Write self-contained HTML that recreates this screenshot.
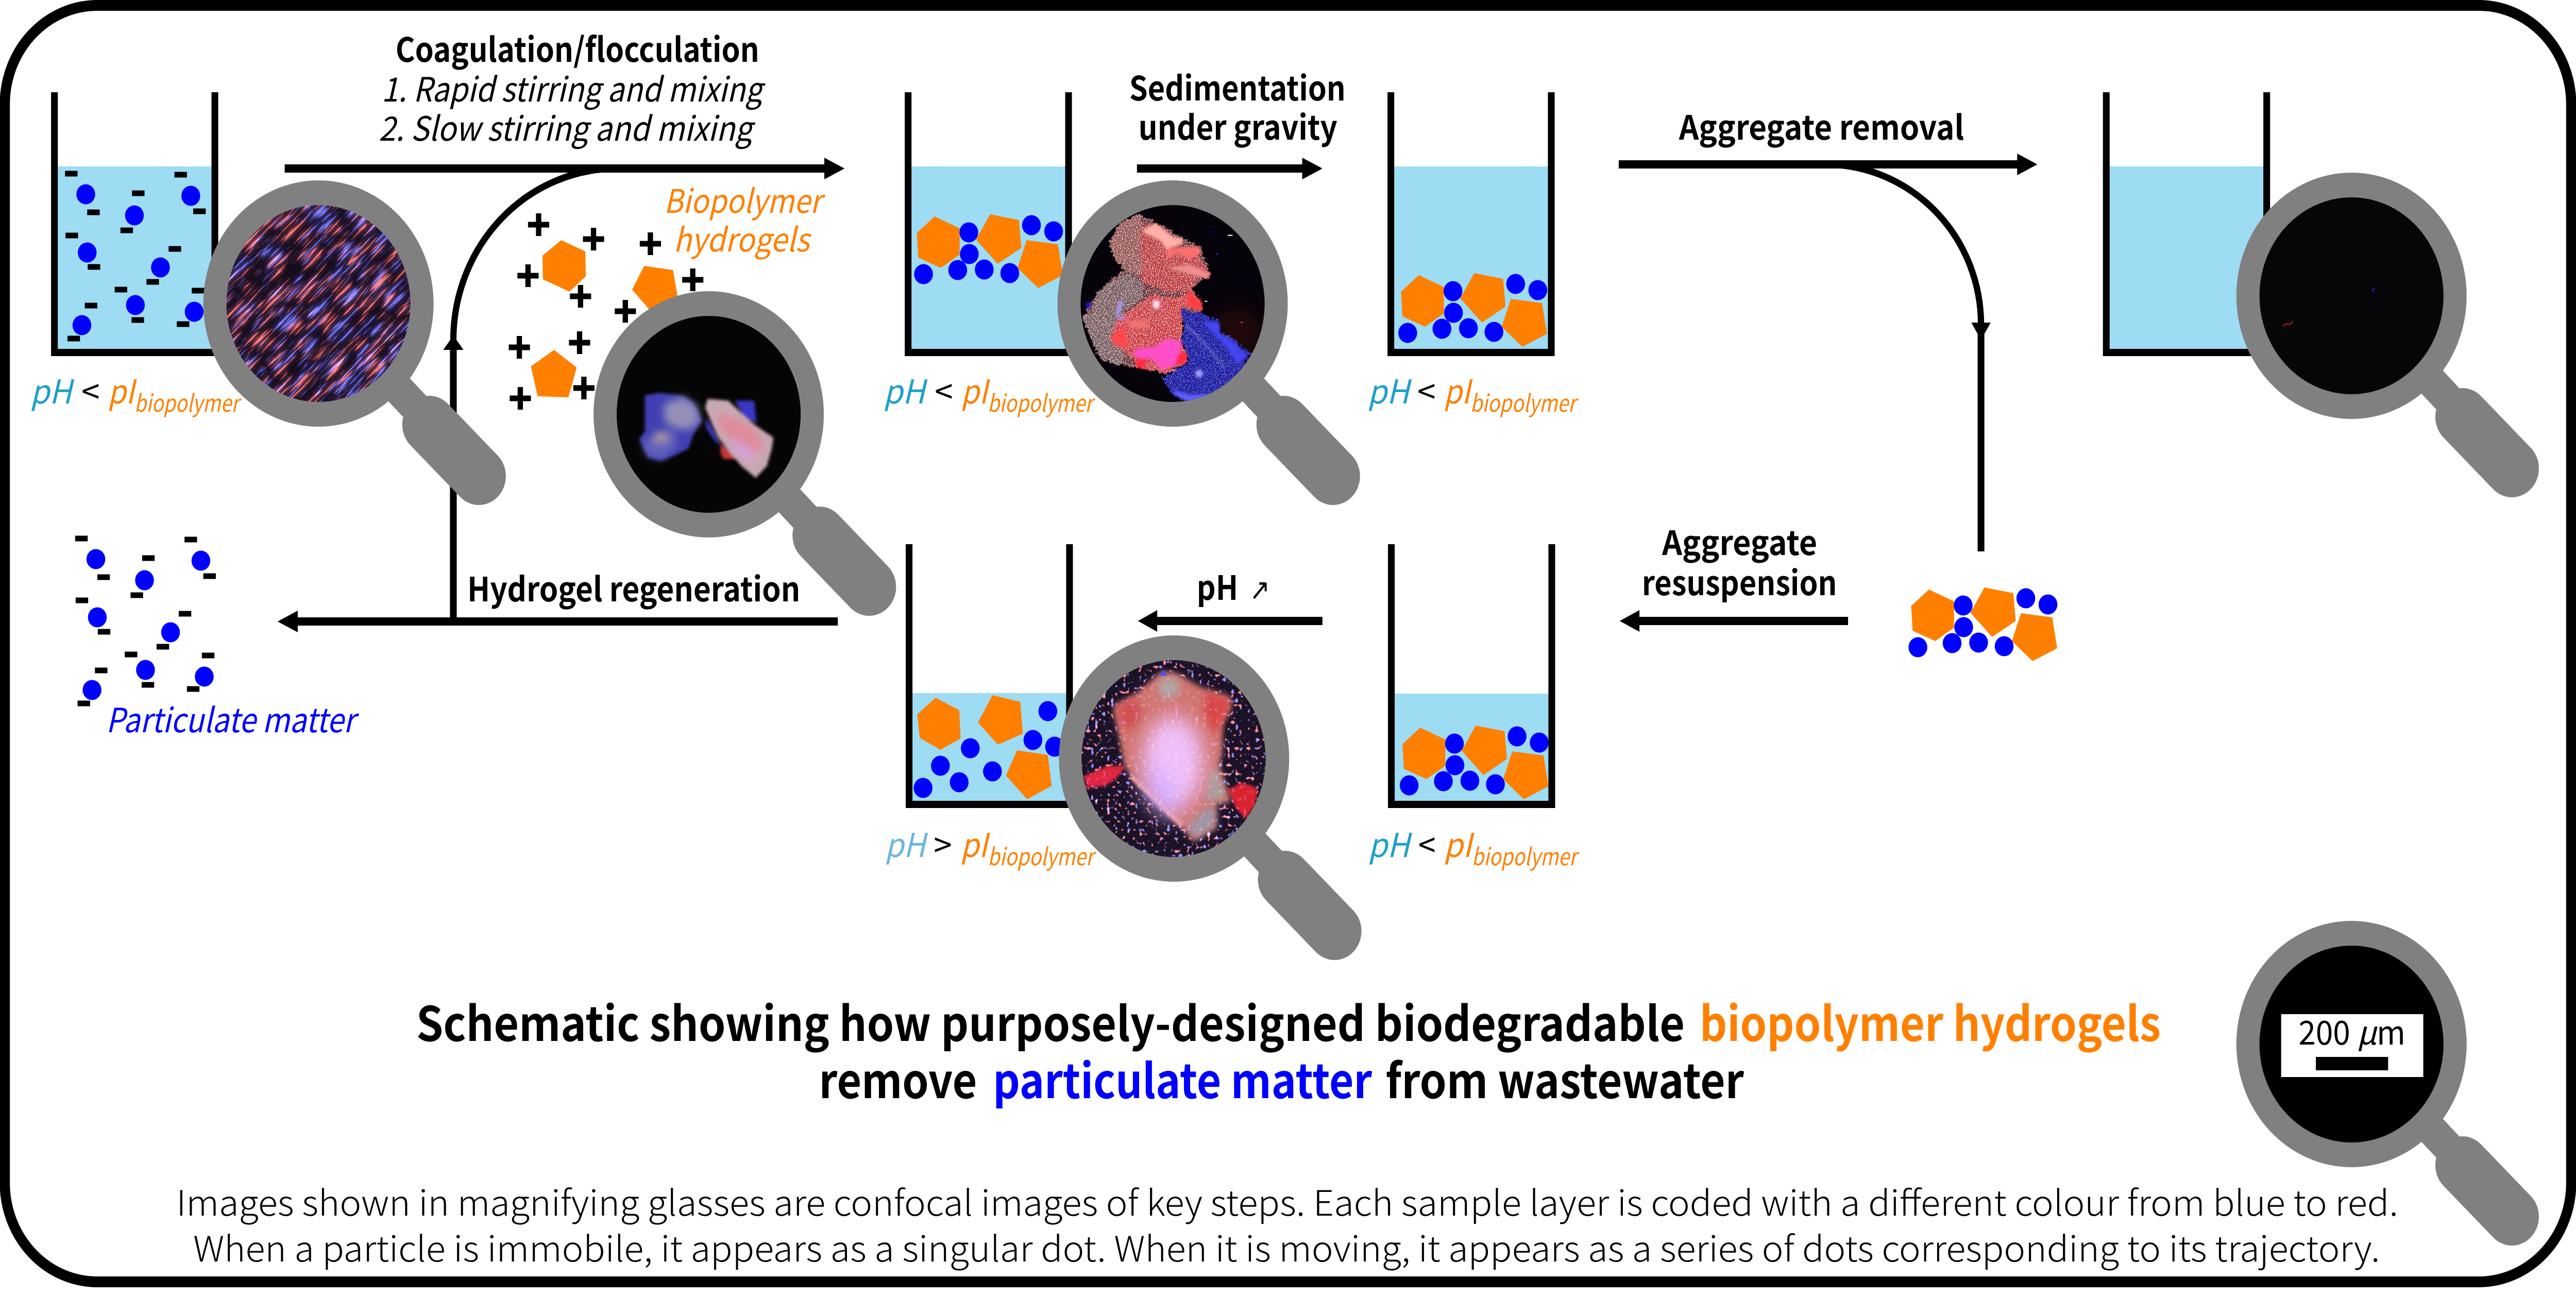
<!DOCTYPE html>
<html><head><meta charset="utf-8"><title>Biopolymer hydrogels schematic</title>
<style>
html,body{margin:0;padding:0;background:#fff;width:100%;height:100%;overflow:hidden}
svg{display:block;width:100vw;height:100vh}
text{font-family:"Noto Sans CJK SC","Liberation Sans",sans-serif;white-space:pre}
.b{font-weight:700;font-size:65px;fill:#000}
.i{font-style:italic;font-size:65px;fill:#000}
.ph{font-style:italic;font-size:64px;fill:#1e9fcb}
.ph2{font-style:italic;font-size:64px;fill:#6bb5dc}
.pi{font-style:italic;font-size:64px;fill:#ff8000}
.sub{font-style:italic;font-size:46px;fill:#ff8000}
.lt{font-size:64px;fill:#000}
.o{font-style:italic;font-size:63px;fill:#ff8000}
.t{font-weight:700;font-size:92px}
.f{font-size:68px;font-weight:300;fill:#000}
</style></head><body>
<svg xmlns="http://www.w3.org/2000/svg" viewBox="0 0 5347 2513" preserveAspectRatio="none">
<defs>
<clipPath id="c1"><circle cx="661" cy="589" r="191"/></clipPath>
<clipPath id="c2"><circle cx="1471" cy="804" r="191"/></clipPath>
<clipPath id="c3"><circle cx="2434" cy="589" r="191"/></clipPath>
<clipPath id="c4"><circle cx="2436" cy="1472" r="191"/></clipPath>
<filter id="streak" x="0" y="0" width="1" height="1" color-interpolation-filters="sRGB">
<feTurbulence type="fractalNoise" baseFrequency="0.016 0.2" numOctaves="4" seed="7"/>
<feComponentTransfer><feFuncR type="linear" slope="8" intercept="-4.8"/><feFuncG type="linear" slope="8" intercept="-4.8"/><feFuncB type="linear" slope="8" intercept="-4.8"/><feFuncA type="linear" slope="0" intercept="1"/></feComponentTransfer>
<feColorMatrix values="1 0 .35 0 0  .38 0 .38 0 0  .35 0 1 0 0  0 0 0 0 1" result="s"/>
<feGaussianBlur in="s" stdDeviation="5" result="h"/>
<feBlend in="s" in2="h" mode="screen"/>
</filter>
<filter id="speck" x="-.1" y="-.1" width="1.2" height="1.2" color-interpolation-filters="sRGB">
<feTurbulence type="fractalNoise" baseFrequency="0.05" numOctaves="2" seed="5" result="r"/>
<feDisplacementMap in="SourceGraphic" in2="r" scale="40" xChannelSelector="R" yChannelSelector="G" result="g"/>
<feTurbulence type="fractalNoise" baseFrequency="0.16" numOctaves="2" seed="3"/>
<feColorMatrix values="0 0 0 0 1  0 0 0 0 .8  0 0 0 0 .8  11 0 0 0 -5.9" result="d"/>
<feComposite in="d" in2="g" operator="in" result="dd"/>
<feMerge><feMergeNode in="g"/><feMergeNode in="dd"/></feMerge>
</filter>
<filter id="speckB" x="-.1" y="-.1" width="1.2" height="1.2" color-interpolation-filters="sRGB">
<feTurbulence type="fractalNoise" baseFrequency="0.05" numOctaves="2" seed="9" result="r"/>
<feDisplacementMap in="SourceGraphic" in2="r" scale="40" xChannelSelector="R" yChannelSelector="G" result="g"/>
<feTurbulence type="fractalNoise" baseFrequency="0.16" numOctaves="2" seed="4"/>
<feColorMatrix values="0 0 0 0 .6  0 0 0 0 .6  0 0 0 0 1  11 0 0 0 -6.4" result="d"/>
<feComposite in="d" in2="g" operator="in" result="dd"/>
<feMerge><feMergeNode in="g"/><feMergeNode in="dd"/></feMerge>
</filter>
<filter id="dots" x="0" y="0" width="1" height="1" color-interpolation-filters="sRGB">
<feTurbulence type="fractalNoise" baseFrequency="0.04" numOctaves="1" seed="11"/>
<feComponentTransfer><feFuncR type="linear" slope="10" intercept="-6.3"/><feFuncG type="linear" slope="10" intercept="-6.3"/><feFuncB type="linear" slope="10" intercept="-6.3"/><feFuncA type="linear" slope="0" intercept="1"/></feComponentTransfer>
<feColorMatrix values="1 0 .45 0 0  .45 0 .45 0 0  .45 0 1 0 0  0 0 0 0 1"/>
</filter>
<filter id="bl" x="-.2" y="-.2" width="1.4" height="1.4"><feGaussianBlur stdDeviation="8"/></filter>
<filter id="bl9" x="-.2" y="-.2" width="1.4" height="1.4"><feGaussianBlur stdDeviation="9"/></filter>
<filter id="bl1" x="-.2" y="-.2" width="1.4" height="1.4"><feGaussianBlur stdDeviation="16"/></filter>
<filter id="bl2" x="-.3" y="-.3" width="1.6" height="1.6"><feGaussianBlur stdDeviation="24"/></filter>
<filter id="bl3" x="-.4" y="-.4" width="1.8" height="1.8"><feGaussianBlur stdDeviation="60"/></filter>
<path id="bk" d="M106 179h14V677H439V179h14V691H106Z"/>
<g id="mag"><path d="M150 150L240 240" stroke="#808080" stroke-width="63" fill="none"/><path d="M230 235L333 335" stroke="#808080" stroke-width="112" stroke-linecap="round" fill="none"/><circle r="239" fill="#808080"/></g>
<g id="agg">
<path fill="#ff8000" d="M1940 420L1992 443 1992 494 1953 520 1906 500 1903 452Z"/>
<path fill="#ff8000" d="M2055 416L2115 427 2120 481 2071 512 2026 465Z"/>
<path fill="#ff8000" d="M2131 466L2196 474 2206 534 2155 559 2112 520Z"/>
<g fill="#0000ff"><circle cx="2011" cy="451" r="19.5"/><circle cx="2141" cy="437" r="19.5"/><circle cx="2187" cy="449" r="19.5"/><circle cx="2012" cy="493" r="19.5"/><circle cx="1917" cy="532" r="19.5"/><circle cx="1988" cy="524" r="19.5"/><circle cx="2043" cy="523" r="19.5"/><circle cx="2096" cy="530" r="19.5"/></g>
</g>
<g id="pm">
<g fill="#0000ff"><circle cx="178" cy="377" r="19.5"/><circle cx="279" cy="418" r="19.5"/><circle cx="396" cy="380" r="19.5"/><circle cx="181" cy="490" r="19.5"/><circle cx="333" cy="519" r="19.5"/><circle cx="281" cy="592" r="19.5"/><circle cx="403" cy="605" r="19.5"/><circle cx="170" cy="631" r="19.5"/></g>
<path stroke="#000" stroke-width="11" fill="none" d="M135 337h26M274 375h26M362 339h26M181 412h26M250 447h26M401 410h26M136 457h26M350 483h26M182 518h26M304 547h26M238 562h26M398 564h26M176 593h26M273 621h26M367 629h26M140 657h26"/>
</g>
</defs>

<rect width="5347" height="2513" fill="#fff"/>
<rect x="10" y="10.500" width="5327" height="2477" rx="192" ry="192" fill="#fff" stroke="#000" stroke-width="21"/>

<!-- water -->
<g fill="#9edcf4">
<rect x="120" y="323" width="320" height="355"/>
<rect x="1892" y="323" width="322" height="355"/>
<rect x="2894" y="323" width="321" height="355"/>
<rect x="4379" y="323" width="320" height="355"/>
<rect x="1893" y="1345" width="321" height="209"/>
<rect x="2895" y="1346" width="321" height="209"/>
</g>

<!-- contents -->
<use href="#pm"/>
<use href="#pm" transform="translate(21 708)"/>
<use href="#agg"/>
<use href="#agg" transform="translate(1005 114)"/>
<use href="#agg" transform="translate(1008 992)"/>
<use href="#agg" transform="translate(2064 724)"/>
<path fill="#ff8000" d="M1942 1354L1991 1378 1994 1433 1952 1455 1909 1432 1904 1386Z"/>
<path fill="#ff8000" d="M2060 1349L2118 1362 2123 1424 2071 1445 2030 1402Z"/>
<path fill="#ff8000" d="M2111 1456L2175 1465 2183 1525 2132 1551 2088 1505Z"/>
<g fill="#0000ff"><circle cx="2175" cy="1380" r="19.500"/><circle cx="2144" cy="1436" r="19.500"/><circle cx="2189" cy="1449" r="19.500"/><circle cx="2014" cy="1452" r="19.500"/><circle cx="1952" cy="1486" r="19.500"/><circle cx="2060" cy="1497" r="19.500"/><circle cx="1991" cy="1518" r="19.500"/><circle cx="1916" cy="1529" r="19.500"/></g>

<!-- hydrogels free -->
<path fill="#ff8000" d="M1165 466L1215 488 1216 536 1182 566 1127 542 1126 496Z"/>
<path fill="#ff8000" d="M1337 516L1397 524 1407 578 1349 602 1312 562Z"/>
<path fill="#ff8000" d="M1150 679L1197 713 1180 771 1116 769 1102 711Z"/>
<path stroke="#000" stroke-width="11" fill="none" d="M1096 436h44M1118 414v44M1210 464h44M1232 442v44M1328 473h44M1350 451v44M1074 535h44M1096 513v44M1183 575h44M1205 553v44M1416 543h44M1438 521v44M1276 604h44M1298 582v44M1056 674h44M1078 652v44M1181 665h44M1203 643v44M1190 753h44M1212 731v44M1058 773h44M1080 751v44"/>

<!-- beakers -->
<use href="#bk"/>
<use href="#bk" x="1772"/>
<use href="#bk" x="2774"/>
<use href="#bk" x="4259"/>
<use href="#bk" x="1774" y="877"/>
<use href="#bk" x="2775" y="877"/>

<!-- arrows -->
<g fill="#000">
<path d="M591 319H1711V306L1753 327 1711 348V335H591Z"/>
<path d="M2360 319H2703V306L2745 327 2703 348V335H2360Z"/>
<path d="M3360 311H4187V298L4229 319 4187 340V327H3360Z"/>
<path d="M3836 1197H3403V1184L3362 1205 3403 1226V1213H3836Z"/>
<path d="M2745 1197H2402V1184L2362 1205 2402 1226V1213H2745Z"/>
<path d="M1739 1198H618V1185L576 1206 618 1227V1214H1739Z"/>
<rect x="934" y="670" width="14" height="536"/>
<path d="M941 651L962 679H920Z"/>
<rect x="4105" y="640" width="14" height="430"/>
<path d="M4112 660L4132 626H4092Z"/>
</g>
<path d="M941 660A339 333 0 0 1 1280 327" fill="none" stroke="#000" stroke-width="13"/>
<path d="M3789 319A323 311 0 0 1 4112 630" fill="none" stroke="#000" stroke-width="13"/>

<!-- magnifiers -->
<use href="#mag" transform="translate(661 589)"/>
<use href="#mag" transform="translate(1471 804)"/>
<use href="#mag" transform="translate(2434 589)"/>
<use href="#mag" transform="translate(4881 574)"/>
<use href="#mag" transform="translate(2437 1472)"/>
<use href="#mag" transform="translate(4881 2026)"/>

<!-- lens 1: streaks -->
<g clip-path="url(#c1)">
<rect x="460" y="390" width="402" height="400" fill="#140c1c"/>
<g transform="rotate(-44 661 589)"><rect x="360" y="290" width="600" height="600" filter="url(#streak)" style="mix-blend-mode:screen"/></g>
</g>

<!-- lens 2 -->
<circle cx="1471" cy="804" r="191" fill="#050505"/>
<g clip-path="url(#c2)"><g transform="translate(1272 604) scale(.33333)">
<g filter="url(#bl9)">
<path fill="#4040b4" d="M200 490L290 475 430 490 500 530 555 635 500 720 470 800 380 840 300 870 220 850 165 745 200 700Z"/>
<path fill="#3838c4" d="M580 620L640 720 670 780 640 760 580 680ZM760 520L880 520 895 650 820 620Z"/>
<path fill="#c83838" d="M670 770L780 860 690 860 672 830Z"/>
<path fill="#c8a8b4" d="M590 510L720 520 830 620 880 660 1000 735 990 800 960 900 890 970 800 900 720 810 660 740 620 660 575 560Z"/>
</g>
<g filter="url(#bl2)">
<path fill="#9490b8" d="M320 540L440 500 530 560 540 650 470 690 390 680 320 640Z"/>
<path fill="#6464bc" d="M185 760L300 700 390 700 395 790 300 860 215 840Z"/>
<ellipse cx="300" cy="730" rx="50" ry="28" fill="#b09a9a"/>
<path fill="#e08a98" d="M650 590L850 660 940 770 900 840 780 770 680 700Z"/>
<path fill="#d8a0e0" d="M730 730L890 810 850 880 760 810Z" opacity=".8"/>
</g>
</g></g>

<!-- lens 3 -->
<circle cx="2434" cy="589" r="191" fill="#06040a"/>
<g clip-path="url(#c3)"><g transform="translate(2235 390) scale(.33333)">
<ellipse cx="1000" cy="760" rx="150" ry="130" fill="#3a0808" filter="url(#bl3)" opacity=".6"/>
<g filter="url(#speck)">
<path fill="#5e3238" d="M200 240L260 140 385 75 540 150 660 215 770 270 830 420 720 510 780 640 650 700 600 1000 370 970 300 960 150 920 35 680 120 540 260 420 300 400 240 350Z"/>
<path fill="#8a5654" d="M200 240L260 140 385 75 410 130 420 300 400 440 300 400 240 350Z"/>
<path fill="#6c5c60" d="M120 540L190 490 260 440 320 420 400 470 420 560 300 640 250 690 220 790 300 900 270 960 150 920 100 830 35 680 100 640Z"/>
</g>
<g filter="url(#speckB)">
<path fill="#20209c" d="M640 630L770 650 890 700 900 770 960 790 1080 890 1010 1030 860 1130 700 1175 600 1130 530 1030 690 940 690 880 650 820 670 740Z"/>
</g>
<g filter="url(#speck)">
<path fill="#b43a40" d="M400 150L490 130 545 165 600 210 660 215 655 250 610 265 740 265 770 290 760 320 800 380 830 420 820 455 760 450 720 510 680 530 560 530 400 470 400 300Z"/>
<path fill="#c63a42" d="M480 540L540 560 640 560 720 520 780 590 780 640 650 620 660 740 650 830 690 890 680 940 550 1010 490 990 370 970 360 920 300 880 210 800 250 690 370 610Z"/>
</g>
<g filter="url(#bl)">
<path fill="#4848ff" d="M780 700L890 710 890 770 960 810 1060 900 1000 950 930 850 870 790Z" opacity=".85"/>
<path fill="#6060ff" d="M610 1100L700 1130 840 1120 850 1140 700 1170 610 1130Z"/>
<path fill="#ff4040" d="M690 520L780 590 780 640 690 610Z"/>
<path fill="#ffb0a8" d="M410 170L490 130 545 170 600 210 660 215 655 250 560 280 520 230 430 190Z"/>
<path fill="#ff7070" d="M560 280L760 265 770 300 700 340 630 300 560 340Z"/>
<path fill="#f09090" d="M560 390L700 370 820 420 820 450 720 430Z"/>
<path fill="#ff4a50" d="M215 790L300 720 320 850 230 840Z"/>
<path fill="#f07070" d="M310 700L440 690 450 740 330 740Z"/>
<path fill="#ff50c8" d="M560 800L660 820 620 950 530 985 470 920 370 910 350 880 380 860 480 850Z"/>
<path fill="#ff2a40" d="M370 920L440 920 420 975 370 970Z M640 880L690 890 680 940 610 960Z"/>
<path fill="#a898f8" d="M260 590L290 570 280 620 250 680 300 660 290 690 240 680Z"/>
<ellipse cx="495" cy="602" rx="24" ry="26" fill="#f8d8ee"/>
<path d="M680 720Q800 830 920 970" stroke="#b8b0f0" stroke-width="10" fill="none" opacity=".5"/>
<circle cx="762" cy="1005" r="22" fill="#a8a0ff"/>
<ellipse cx="72" cy="606" rx="14" ry="18" fill="#2020e8"/>
</g>
<g fill="#e8e0ff"><ellipse cx="805" cy="584" rx="9" ry="4"/><ellipse cx="955" cy="200" rx="18" ry="4"/></g>
<ellipse cx="1028" cy="707" rx="9" ry="3" fill="#ff5040"/>
<circle cx="872" cy="308" r="5" fill="#2020ff"/><circle cx="852" cy="180" r="4" fill="#2020ff"/>
</g></g>

<!-- lens 4 (empty) -->
<circle cx="4881" cy="574" r="191" fill="#060608"/>
<path d="M4923 566l5-7" stroke="#1a1ab0" stroke-width="3"/>
<path d="M4739 634q5-8 10-5t10-6" stroke="#a01818" stroke-width="2.500" fill="none"/>

<!-- lens 5 -->
<g clip-path="url(#c4)"><g transform="translate(2238 1273) scale(.33333)">
<rect width="1200" height="1200" fill="#1b1226"/>
<rect width="1200" height="1200" filter="url(#dots)" style="mix-blend-mode:screen"/>
<g filter="url(#bl)">
<path fill="#e02840" d="M35 700L180 640 295 640 240 710 170 755 55 770Z"/>
<path fill="#d8202e" d="M930 780L1020 735 1120 770 1100 870 1040 950 980 880Z"/>
</g>
<g filter="url(#bl1)">
<path fill="#d07470" d="M520 90L610 100 760 180 950 240 950 300 900 400 900 530 880 650 950 850 860 860 860 1000 720 1080 660 1010 570 940 330 700 290 640 230 360 220 290 360 220 470 130Z"/>
</g>
<path d="M330 700L650 990" stroke="#f09a90" stroke-width="26" fill="none" filter="url(#bl)"/>
<g filter="url(#bl2)">
<path fill="#d84646" d="M790 210L940 250 940 300 880 400 850 470 780 340Z"/>
<path fill="#d05050" d="M240 300L360 240 400 340 330 440 280 420Z"/>
<path fill="#9c97a8" d="M680 1000L790 890 850 880 850 990 720 1060Z"/>
<path fill="#a89e9e" d="M830 660L870 660 920 830 860 840 790 840Z"/>
<path fill="#b0a6a2" d="M490 150L610 120 640 220 520 250Z"/>
</g>
<g filter="url(#bl3)">
<ellipse cx="590" cy="620" rx="190" ry="270" fill="#f0c0fa"/>
<ellipse cx="520" cy="790" rx="90" ry="170" fill="#d8b0ff" transform="rotate(-35 520 790)"/>
</g>
<rect width="1200" height="1200" filter="url(#dots)" style="mix-blend-mode:screen" opacity=".4"/>
<path d="M505 115l25-35 25 35Z" fill="#5050e8"/>
</g></g>

<!-- lens 6: scale -->
<circle cx="4881" cy="2026" r="191" fill="#000"/>
<rect x="4735" y="1968" width="295" height="122" fill="#fff"/>
<rect x="4807" y="2051" width="150" height="26" fill="#000"/>
<text x="4771" y="2027" font-size="64" textLength="222" lengthAdjust="spacingAndGlyphs" fill="#000">200 <tspan font-style="italic">μ</tspan>m</text>

<!-- step labels -->
<text class="b" x="821" y="120" textLength="755" lengthAdjust="spacingAndGlyphs">Coagulation/flocculation</text>
<text class="i" x="792" y="197" textLength="790" lengthAdjust="spacingAndGlyphs">1. Rapid stirring and mixing</text>
<text class="i" x="786" y="273" textLength="775" lengthAdjust="spacingAndGlyphs">2. Slow stirring and mixing</text>
<text class="b" x="2344" y="195" textLength="449" lengthAdjust="spacingAndGlyphs">Sedimentation</text>
<text class="b" x="2363" y="271" textLength="413" lengthAdjust="spacingAndGlyphs">under gravity</text>
<text class="b" x="3485" y="271" textLength="592" lengthAdjust="spacingAndGlyphs">Aggregate removal</text>
<text class="b" x="3450" y="1077" textLength="322" lengthAdjust="spacingAndGlyphs">Aggregate</text>
<text class="b" x="3408" y="1155" textLength="405" lengthAdjust="spacingAndGlyphs">resuspension</text>
<text class="b" x="2484" y="1164" textLength="86" lengthAdjust="spacingAndGlyphs">pH</text>
<text x="2594" y="1164" font-size="58" fill="#000" font-weight="400" style="font-family:'DejaVu Sans',sans-serif" textLength="42" lengthAdjust="spacingAndGlyphs">↗</text>
<text class="b" x="970" y="1167" textLength="691" lengthAdjust="spacingAndGlyphs">Hydrogel regeneration</text>
<text class="o" x="1378" y="413" textLength="327" lengthAdjust="spacingAndGlyphs">Biopolymer</text>
<text class="o" x="1398" y="488" textLength="282" lengthAdjust="spacingAndGlyphs">hydrogels</text>
<text class="i" x="220" y="1421" textLength="517" lengthAdjust="spacingAndGlyphs" style="fill:#0000ff">Particulate matter</text>

<!-- pH labels -->
<text class="ph" x="63" y="783" textLength="86" lengthAdjust="spacingAndGlyphs">pH</text><text class="lt" x="169" y="783" textLength="38" lengthAdjust="spacingAndGlyphs">&lt;</text><text class="pi" x="224" y="783" textLength="55" lengthAdjust="spacingAndGlyphs">pI</text><text class="sub" x="279" y="799" textLength="217" lengthAdjust="spacingAndGlyphs">biopolymer</text>
<text class="ph" x="1834" y="783" textLength="86" lengthAdjust="spacingAndGlyphs">pH</text><text class="lt" x="1940" y="783" textLength="38" lengthAdjust="spacingAndGlyphs">&lt;</text><text class="pi" x="1995" y="783" textLength="55" lengthAdjust="spacingAndGlyphs">pI</text><text class="sub" x="2050" y="799" textLength="218" lengthAdjust="spacingAndGlyphs">biopolymer</text>
<text class="ph" x="2839" y="783" textLength="86" lengthAdjust="spacingAndGlyphs">pH</text><text class="lt" x="2942" y="783" textLength="38" lengthAdjust="spacingAndGlyphs">&lt;</text><text class="pi" x="2997" y="783" textLength="55" lengthAdjust="spacingAndGlyphs">pI</text><text class="sub" x="3052" y="799" textLength="219" lengthAdjust="spacingAndGlyphs">biopolymer</text>
<text class="ph2" x="1837" y="1663" textLength="84" lengthAdjust="spacingAndGlyphs">pH</text><text class="lt" x="1938" y="1663" textLength="38" lengthAdjust="spacingAndGlyphs">&gt;</text><text class="pi" x="1994" y="1663" textLength="56" lengthAdjust="spacingAndGlyphs">pI</text><text class="sub" x="2050" y="1679" textLength="220" lengthAdjust="spacingAndGlyphs">biopolymer</text>
<text class="ph" x="2840" y="1663" textLength="86" lengthAdjust="spacingAndGlyphs">pH</text><text class="lt" x="2944" y="1663" textLength="36" lengthAdjust="spacingAndGlyphs">&lt;</text><text class="pi" x="2997" y="1663" textLength="58" lengthAdjust="spacingAndGlyphs">pI</text><text class="sub" x="3055" y="1679" textLength="218" lengthAdjust="spacingAndGlyphs">biopolymer</text>

<!-- title -->
<text class="t" x="864" y="2020" textLength="2633" lengthAdjust="spacingAndGlyphs" fill="#000">Schematic showing how purposely-designed biodegradable</text>
<text class="t" x="3528" y="2020" textLength="957" lengthAdjust="spacingAndGlyphs" fill="#ff8000">biopolymer hydrogels</text>
<text class="t" x="1700" y="2131" textLength="328" lengthAdjust="spacingAndGlyphs" fill="#000">remove</text>
<text class="t" x="2061" y="2131" textLength="787" lengthAdjust="spacingAndGlyphs" fill="#0000ff">particulate matter</text>
<text class="t" x="2876" y="2131" textLength="744" lengthAdjust="spacingAndGlyphs" fill="#000">from wastewater</text>

<!-- footnote -->
<text class="f" x="366" y="2359" textLength="4612" lengthAdjust="spacingAndGlyphs">Images shown in magnifying glasses are confocal images of key steps. Each sample layer is coded with a different colour from blue to red.</text>
<text class="f" x="401" y="2448" textLength="4539" lengthAdjust="spacingAndGlyphs">When a particle is immobile, it appears as a singular dot. When it is moving, it appears as a series of dots corresponding to its trajectory.</text>
</svg>
</body></html>
